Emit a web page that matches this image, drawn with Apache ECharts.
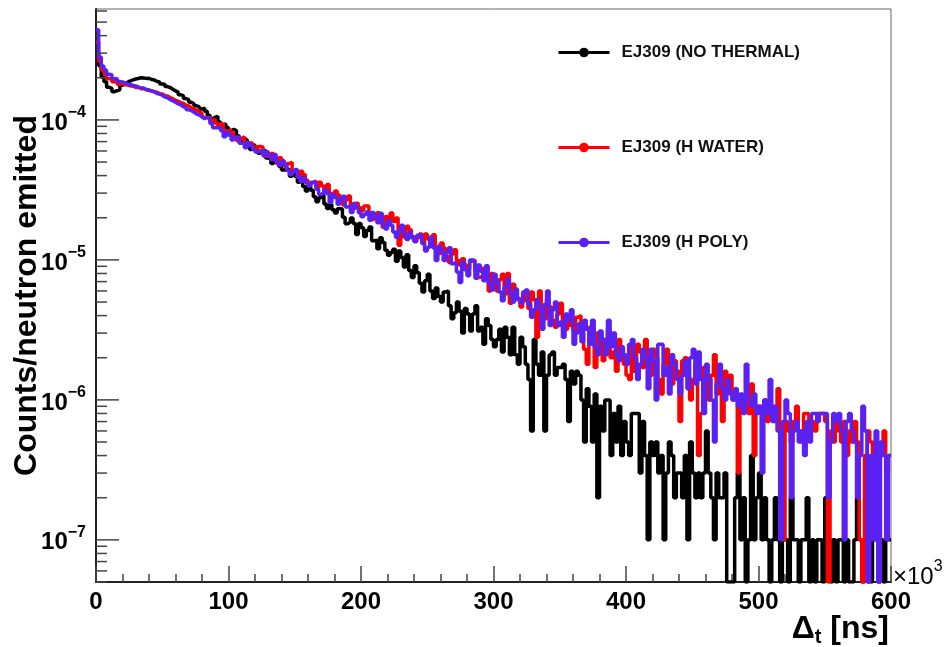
<!DOCTYPE html>
<html><head><meta charset="utf-8">
<script src="https://cdn.jsdelivr.net/npm/echarts@6/dist/echarts.min.js"></script>
<style>html,body{margin:0;padding:0;background:#fff}#c{width:945px;height:647px}</style>
</head><body><div id="c"></div>
<script>
// Histogram: 300 bins of 2 (x10^3 ns) from 0 to 600
const binWidth = 2;
const entryValue = 1e-7; // counts/neutron emitted per histogram entry
const seriesNames = ['EJ309 (NO THERMAL)', 'EJ309 (H WATER)', 'EJ309 (H POLY)'];
const seriesColors = ['#000000', '#ff0000', '#5a22f2'];
const xTickLabels = ['0', '100', '200', '300', '400', '500', '600'];
const yMin = 5.0e-8, yMax = 6.2e-4;

// entries per bin (x entryValue)
const noThermal = [
3010,2440,2030,1870,1710,1680,1590,1620,1640,1770,
1815,1860,1900,1930,1960,1975,2000,1995,1980,1985,
1945,1930,1885,1870,1805,1795,1730,1705,1655,1610,
1580,1510,1490,1420,1395,1335,1305,1260,1240,1195,
1215,1153,1079,1020,1047,1058,965,915,938,882,
839,855,838,770,715,716,729,685,614,662,
627,577,599,609,535,530,488,530,501,465,
438,440,446,396,424,394,358,394,335,310,
340,315,283,260,278,291,251,233,249,228,
216,232,231,202,181,187,199,182,152,182,
170,147,162,172,137,138,120,144,133,117,
108,113,119,98,116,104,89,109,84,75,
91,81,68,59,71,79,60,53,63,55,
50,59,60,47,38,42,50,43,30,45,
41,31,41,47,31,33,25,38,34,27,
24,27,32,22,33,28,21,33,21,18,
28,24,18,14,6,27,18,15,22,6,
15,21,22,15,17,17,18,14,7,16,
13,16,15,10,5,12,9,5,11,2,
9,6,10,10,4,8,5,9,4,7,
5,4,8,8,8,3,7,4,1,5,
4,5,3,4,1,3,5,4,2,3,
3,2,4,1,5,3,2,3,2,3,
6,3,2,1,3,2,2,3,0,0,
0,2,3,1,2,0,1,4,1,2,
3,1,2,1,0,1,2,1,0,1,
1,0,2,1,1,0,1,1,2,0,
1,0,1,1,0,2,1,0,1,0,
1,1,0,1,0,0,1,2,1,0,
1,0,0,1,1,0,1,0,1,1
];
const hWater = [
3600,2630,2270,2130,1970,1980,1870,1880,1800,1830,
1780,1775,1750,1745,1705,1710,1670,1670,1640,1620,
1610,1590,1575,1540,1530,1490,1480,1440,1420,1380,
1360,1330,1310,1275,1260,1220,1205,1170,1150,1115,
1043,1041,1044,962,1000,945,887,939,843,799,
842,801,748,709,737,758,690,658,685,647,
622,645,641,588,549,557,576,543,488,536,
511,467,488,498,431,428,390,429,405,371,
349,357,367,328,359,337,309,346,298,280,
311,291,265,248,269,286,249,234,254,236,
224,243,243,215,194,202,217,201,171,204,
192,216,188,199,127,166,146,174,164,147,
136,144,153,131,153,141,125,151,121,111,
132,121,106,96,110,118,99,92,102,92,
86,98,100,84,75,77,87,78,60,80,
73,60,72,79,57,80,49,67,61,52,
46,51,58,45,59,52,28,60,43,38,
52,46,37,33,41,49,36,32,40,34,
31,39,40,30,23,18,33,27,17,30,
26,19,27,32,20,22,16,27,23,18,
15,14,24,16,25,22,17,27,17,15,
23,20,14,11,18,23,16,13,19,16,
7,19,20,15,10,14,18,4,8,17,
15,10,15,21,11,13,7,16,14,15,
10,11,3,10,9,11,8,13,4,9,
9,8,10,7,8,9,7,12,6,1,
7,6,5,7,9,6,5,8,8,6,
7,6,8,8,8,7,0,6,5,7,
6,5,7,4,6,5,7,5,1,0,
4,6,5,4,5,0,4,6,3,4
];
const hPoly = [
4400,2820,2430,2270,2120,2100,1970,1980,1880,1870,
1840,1800,1795,1760,1750,1715,1700,1690,1650,1640,
1615,1590,1545,1530,1500,1455,1440,1395,1370,1335,
1300,1280,1240,1225,1180,1165,1135,1100,1085,1050,
1021,1041,1023,944,880,878,888,838,757,815,
778,720,748,764,681,680,632,686,656,616,
589,596,609,553,592,559,520,567,498,472,
509,476,435,405,426,442,389,363,385,356,
337,358,357,320,293,302,318,297,257,295,
279,250,272,285,239,242,218,253,238,217,
203,211,221,192,218,203,184,215,178,166,
191,177,158,145,163,177,150,140,157,144,
135,150,151,131,116,123,146,122,99,125,
116,99,113,122,94,96,82,69,97,85,
77,100,98,74,92,83,71,91,68,61,
79,70,59,51,64,73,57,50,62,53,
49,59,61,48,39,44,52,46,32,48,
60,34,44,50,34,36,28,41,37,44,
25,30,35,26,37,32,25,37,24,21,
31,27,21,37,24,30,21,19,24,21,
18,25,27,20,14,18,23,20,12,23,
19,10,25,25,15,17,11,21,18,14,
11,15,19,12,20,23,13,22,14,8,
18,14,10,5,13,18,12,10,14,11,
10,12,9,11,8,18,10,9,11,8,
9,3,10,8,14,7,9,6,1,7,
10,8,2,6,7,5,6,4,7,5,
8,8,7,8,8,8,2,5,8,7,
8,6,1,7,8,6,5,2,4,9,
6,0,4,1,6,0,5,4,1,4
];

const FONT = 'Liberation Sans, Arial, Helvetica, sans-serif';

function histPoints(arr) {
  const pts = [];
  arr.forEach((c, i) => {
    const v = c > 0 ? c * entryValue : yMin; // empty bins drawn at frame bottom
    pts.push([i * binWidth, v]);
    pts.push([(i + 1) * binWidth, v]);
  });
  return pts;
}

// y-axis ticks (major at decades, minor at 2..9)
const yTicks = [];
for (let d = -8; d <= -4; d++) {
  for (let m = 1; m <= 9; m++) {
    const v = m * Math.pow(10, d);
    if (v >= yMin && v <= yMax) yTicks.push([0, v, m === 1 ? 1 : 0]);
  }
}

const chart = echarts.init(document.getElementById('c'), null, {renderer: 'canvas'});
const histData = [noThermal, hWater, hPoly];
const series = histData.map((arr, k) => ({
  name: seriesNames[k],
  type: 'line',
  data: histPoints(arr),
  symbol: 'circle',
  showSymbol: false,
  color: seriesColors[k],
  lineStyle: {width: 3.5, color: seriesColors[k]},
  itemStyle: {color: seriesColors[k]},
  z: 2 + k,
  animation: false,
  silent: true
}));
series.push({
  type: 'custom',
  data: yTicks,
  silent: true,
  clip: false,
  z: 10,
  renderItem: function (params, api) {
    const p = api.coord([0, api.value(1)]);
    const len = api.value(2) ? 23 : 11;
    return {type: 'line', shape: {x1: p[0], y1: p[1], x2: p[0] + len, y2: p[1]},
      style: {stroke: '#444', lineWidth: 1.5}};
  }
});

chart.setOption({
  animation: false,
  backgroundColor: '#fff',
  grid: {left: 96, right: 54, top: 9, bottom: 65, show: true, borderColor: '#666', borderWidth: 1,
    backgroundColor: 'transparent', containLabel: false, outerBoundsMode: 'none'},
  legend: {
    data: seriesNames,
    orient: 'vertical',
    left: 552, top: 39,
    itemWidth: 51, itemHeight: 12, itemGap: 78,
    lineStyle: {width: 3},
    textStyle: {fontFamily: FONT, fontWeight: 'bold', fontSize: 17, color: '#111', padding: [0, 0, 0, 7]},
    selectedMode: false
  },
  xAxis: {
    type: 'value', min: 0, max: 600, interval: 100,
    axisLine: {show: true, onZero: false, lineStyle: {color: '#222', width: 2}},
    axisTick: {show: true, inside: true, length: 16, lineStyle: {color: '#444', width: 1.5}},
    minorTick: {show: true, splitNumber: 5, length: 8, lineStyle: {color: '#444', width: 1.5}},
    splitLine: {show: false},
    axisLabel: {fontFamily: FONT, fontWeight: 'bold', fontSize: 24, color: '#000', margin: 8,
      formatter: v => xTickLabels[Math.round(v / 100)] || ''}
  },
  yAxis: {
    type: 'log', logBase: 10, min: yMin, max: yMax,
    axisLine: {show: true, lineStyle: {color: '#222', width: 2}},
    axisTick: {show: false},
    splitLine: {show: false},
    axisLabel: {
      showMinLabel: false, showMaxLabel: false, margin: 10,
      formatter: function (v) {
        const l = Math.log10(v), e = Math.round(l);
        if (Math.abs(l - e) > 1e-6) return '';
        return '{b|10}{s|\u2212' + Math.abs(e) + '}';
      },
      rich: {
        b: {fontFamily: FONT, fontWeight: 'bold', fontSize: 24, color: '#000', lineHeight: 30, verticalAlign: 'bottom'},
        s: {fontFamily: FONT, fontWeight: 'bold', fontSize: 16, color: '#000', lineHeight: 30, verticalAlign: 'top'}
      }
    },
    name: 'Counts/neutron emitted',
    nameLocation: 'middle', nameGap: 53, nameMoveOverlap: false,
    nameTextStyle: {fontFamily: FONT, fontWeight: 'bold', fontSize: 32, color: '#000'}
  },
  graphic: [
    {type: 'text', left: 893, top: 559, silent: true,
      style: {text: '{a|\u00d710}{b|3}', rich: {
        a: {fontFamily: FONT, fontSize: 24, fill: '#000', lineHeight: 30, verticalAlign: 'bottom'},
        b: {fontFamily: FONT, fontSize: 16, fill: '#000', lineHeight: 30, verticalAlign: 'top'}}}},
    {type: 'text', right: 56, top: 613, silent: true,
      style: {text: '{a|\u0394}{b|t}{a| [ns]}', rich: {
        a: {fontFamily: FONT, fontWeight: 'bold', fontSize: 32, fill: '#000', lineHeight: 36, verticalAlign: 'middle'},
        b: {fontFamily: FONT, fontWeight: 'bold', fontSize: 20, fill: '#000', lineHeight: 36, verticalAlign: 'bottom'}}}}
  ],
  series: series
});
</script>
</body></html>
